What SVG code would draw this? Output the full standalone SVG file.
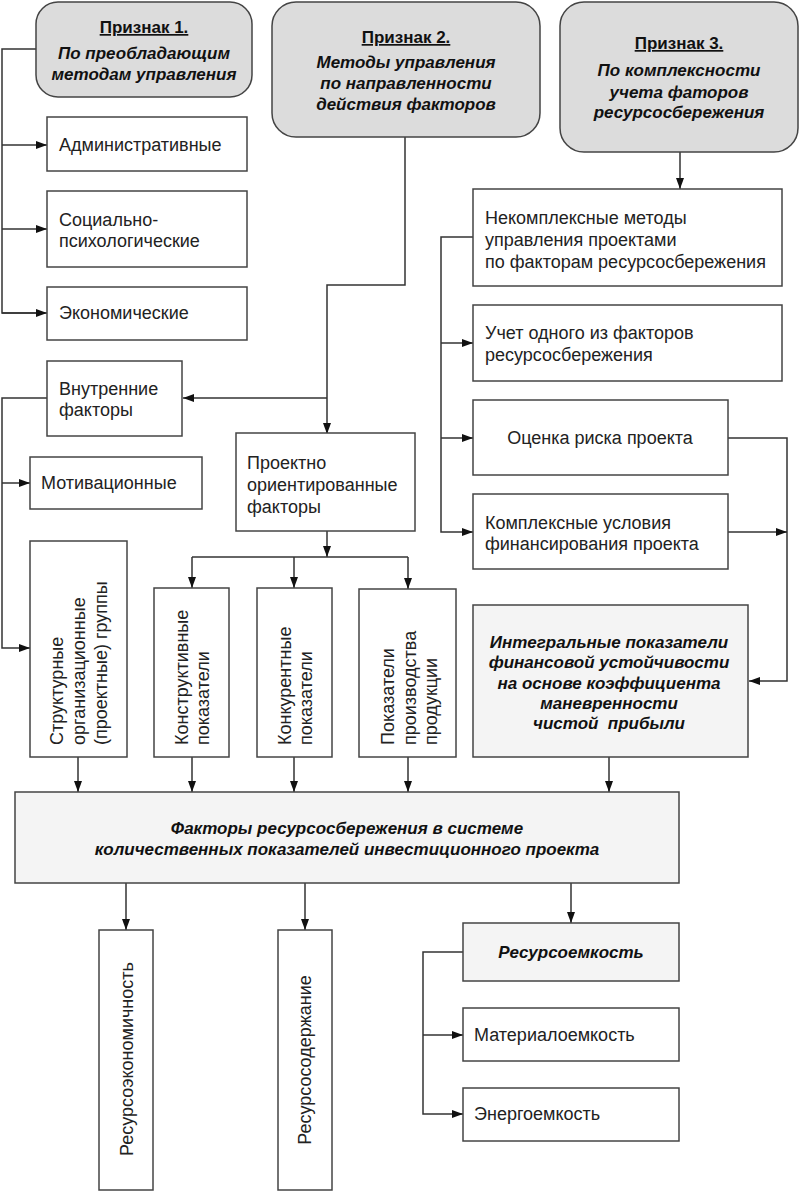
<svg xmlns="http://www.w3.org/2000/svg" width="799" height="1191" viewBox="0 0 799 1191">
<defs>
<marker id="ah" markerUnits="userSpaceOnUse" markerWidth="11" markerHeight="8" refX="11" refY="4" orient="auto"><path d="M0,0 L11,4 L0,8 z" fill="#111"/></marker>
<style>
.b{fill:#fff;stroke:#444;stroke-width:1.5}
.g{fill:#dcdcdc;stroke:#444;stroke-width:1.5}
.l{fill:#f4f4f4;stroke:#444;stroke-width:1.5}
.t{font-family:"Liberation Sans",Arial,sans-serif;font-size:18px;fill:#222}
.h{font-family:"Liberation Sans",Arial,sans-serif;font-size:17px;font-weight:bold;font-style:italic;fill:#111;text-anchor:middle}
.u{font-style:normal;text-decoration:underline}
.c{fill:none;stroke:#333;stroke-width:1.5}
.a{marker-end:url(#ah)}
</style>
</defs>
<g id="connectors">
<path class="c" d="M36 49 H2 V313 H45"/>
<path class="c a" d="M2 145 H47"/>
<path class="c a" d="M2 229 H47"/>
<path class="c a" d="M2 313 H47"/>
<path class="c a" d="M405 137 V285 H327 V434"/>
<path class="c a" d="M327 398 H183"/>
<path class="c a" d="M680 152 V189"/>
<path class="c a" d="M473 237 H441 V532 H473"/>
<path class="c a" d="M441 343 H473"/>
<path class="c a" d="M441 438 H473"/>
<path class="c a" d="M728 438 H787 V681 H749"/>
<path class="c a" d="M728 532 H787"/>
<path class="c a" d="M47 398 H2 V648 H30"/>
<path class="c a" d="M2 483 H30"/>
<path class="c a" d="M327 531 V557"/>
<path class="c" d="M192 557 H408"/>
<path class="c a" d="M192 557 V588"/>
<path class="c a" d="M294 557 V588"/>
<path class="c a" d="M408 557 V589"/>
<path class="c a" d="M78 757 V792"/>
<path class="c a" d="M192 757 V792"/>
<path class="c a" d="M294 757 V792"/>
<path class="c a" d="M408 757 V792"/>
<path class="c a" d="M609 757 V792"/>
<path class="c a" d="M126 883 V930"/>
<path class="c a" d="M305 883 V930"/>
<path class="c a" d="M571 883 V923"/>
<path class="c a" d="M463 952 H423 V1114 H463"/>
<path class="c a" d="M423 1035 H463"/>
</g>
<g id="p1"><rect class="g" x="36" y="2" width="216" height="95" rx="22"/>
<text class="h" x="144" y="33"><tspan class="u">Признак 1.</tspan></text>
<text class="h" x="144" y="59">По преобладающим</text>
<text class="h" x="144" y="80">методам управления</text></g>
<g id="p2"><rect class="g" x="272" y="2" width="268" height="135" rx="24"/>
<text class="h" x="406" y="43"><tspan class="u">Признак 2.</tspan></text>
<text class="h" x="406" y="68">Методы управления</text>
<text class="h" x="406" y="89">по направленности</text>
<text class="h" x="406" y="110">действия факторов</text></g>
<g id="p3"><rect class="g" x="560" y="2" width="238" height="150" rx="24"/>
<text class="h" x="679" y="49"><tspan class="u">Признак 3.</tspan></text>
<text class="h" x="679" y="76">По комплексности</text>
<text class="h" x="679" y="98">учета фаторов</text>
<text class="h" x="679" y="118">ресурсосбережения</text></g>
<g id="adm"><rect class="b" x="47" y="117" width="200" height="54"/><text class="t" x="59" y="151">Административные</text></g>
<g id="soc"><rect class="b" x="47" y="191" width="200" height="76"/><text class="t" x="59" y="226">Социально-</text><text class="t" x="59" y="247">психологические</text></g>
<g id="eco"><rect class="b" x="47" y="287" width="200" height="53"/><text class="t" x="59" y="319">Экономические</text></g>
<g id="vnut"><rect class="b" x="47" y="361" width="135" height="75"/><text class="t" x="59" y="395">Внутренние</text><text class="t" x="59" y="416">факторы</text></g>
<g id="motiv"><rect class="b" x="30" y="457" width="172" height="52"/><text class="t" x="41" y="489">Мотивационные</text></g>
<g id="struct"><rect class="b" x="30" y="541" width="97" height="216"/>
<text class="t" transform="rotate(-90 63 745)" x="63" y="745">Структурные</text>
<text class="t" transform="rotate(-90 85 745)" x="85" y="745">организационные</text>
<text class="t" transform="rotate(-90 107 745)" x="107" y="745">(проектные) группы</text></g>
<g id="proekt"><rect class="b" x="236" y="433" width="179" height="98"/><text class="t" x="247" y="469">Проектно</text><text class="t" x="247" y="491">ориентированные</text><text class="t" x="247" y="513">факторы</text></g>
<g id="konstr"><rect class="b" x="154" y="588" width="75" height="169"/>
<text class="t" transform="rotate(-90 188 745)" x="188" y="745">Конструктивные</text>
<text class="t" transform="rotate(-90 209 745)" x="209" y="745">показатели</text></g>
<g id="konkur"><rect class="b" x="257" y="588" width="75" height="169"/>
<text class="t" transform="rotate(-90 291 745)" x="291" y="745">Конкурентные</text>
<text class="t" transform="rotate(-90 312 745)" x="312" y="745">показатели</text></g>
<g id="proizv"><rect class="b" x="359" y="589" width="97" height="168"/>
<text class="t" transform="rotate(-90 394 745)" x="394" y="745">Показатели</text>
<text class="t" transform="rotate(-90 416 745)" x="416" y="745">производства</text>
<text class="t" transform="rotate(-90 437 745)" x="437" y="745">продукции</text></g>
<g id="nekompl"><rect class="b" x="473" y="189" width="309" height="97"/><text class="t" x="485" y="224">Некомплексные методы</text><text class="t" x="485" y="246">управления проектами</text><text class="t" x="485" y="268">по факторам ресурсосбережения</text></g>
<g id="uchet"><rect class="b" x="473" y="305" width="309" height="76"/><text class="t" x="485" y="339">Учет одного из факторов</text><text class="t" x="485" y="361">ресурсосбережения</text></g>
<g id="ocenka"><rect class="b" x="473" y="400" width="255" height="75"/><text class="t" x="600" y="444" text-anchor="middle">Оценка риска проекта</text></g>
<g id="kompl"><rect class="b" x="473" y="494" width="255" height="75"/><text class="t" x="485" y="529">Комплексные условия</text><text class="t" x="485" y="550">финансирования проекта</text></g>
<g id="integr"><rect class="l" x="473" y="605" width="275" height="152"/>
<text class="h" x="609" y="648">Интегральные показатели</text>
<text class="h" x="609" y="668">финансовой устойчивости</text>
<text class="h" x="609" y="689">на основе коэффициента</text>
<text class="h" x="609" y="709">маневренности</text>
<text class="h" x="609" y="729" xml:space="preserve" style="white-space:pre">чистой  прибыли</text></g>
<g id="big"><rect class="l" x="15" y="792" width="664" height="91"/>
<text class="h" x="347" y="834">Факторы ресурсосбережения в системе</text>
<text class="h" x="347" y="855">количественных показателей инвестиционного проекта</text></g>
<g id="reseco"><rect class="b" x="99" y="930" width="54" height="260"/>
<text class="t" transform="rotate(-90 133 1059)" x="133" y="1059" text-anchor="middle">Ресурсоэкономичность</text></g>
<g id="ressod"><rect class="b" x="278" y="930" width="54" height="260"/>
<text class="t" transform="rotate(-90 311 1060)" x="311" y="1060" text-anchor="middle">Ресурсосодержание</text></g>
<g id="resemk"><rect class="l" x="463" y="923" width="216" height="58"/><text class="h" x="571" y="958">Ресурсоемкость</text></g>
<g id="mat"><rect class="b" x="463" y="1008" width="216" height="53"/><text class="t" x="474" y="1041">Материалоемкость</text></g>
<g id="energ"><rect class="b" x="463" y="1088" width="216" height="53"/><text class="t" x="474" y="1120">Энергоемкость</text></g>
</svg>
